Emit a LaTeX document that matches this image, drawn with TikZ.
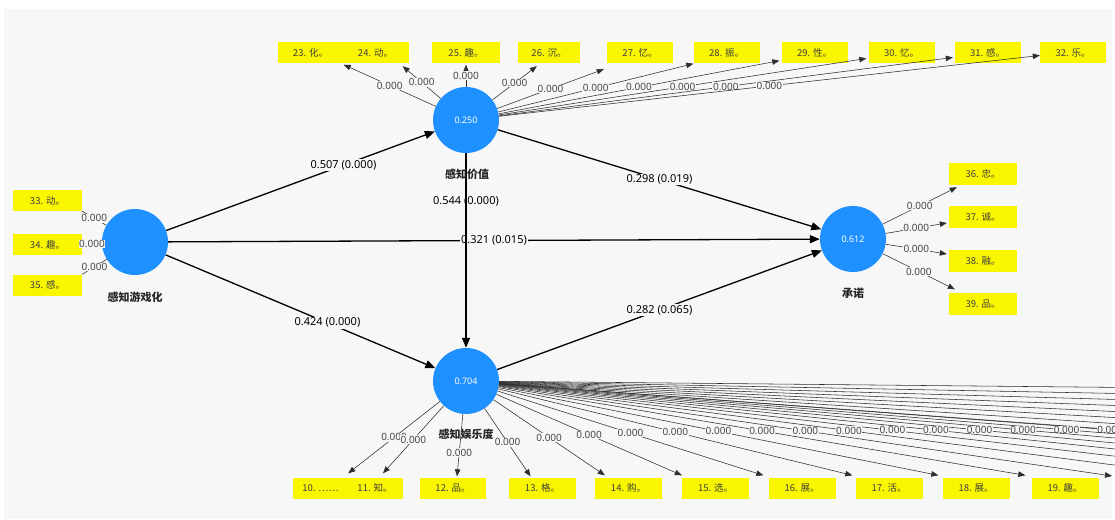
\documentclass[tikz,border=0pt]{standalone}
\usepackage{fontspec}
\setmainfont{Noto Sans}
\newfontfamily\cjk{Noto Sans CJK SC}
\usetikzlibrary{arrows.meta}
\definecolor{canvas}{RGB}{247,247,248}
\definecolor{lv}{RGB}{30,144,255}
\definecolor{mvfill}{RGB}{250,246,0}
\definecolor{wire}{RGB}{45,45,45}
\definecolor{numgray}{RGB}{70,70,70}
\begin{document}
\begin{tikzpicture}[x=1pt,y=-1pt,
  latent/.style={circle,fill=lv,minimum size=66pt,inner sep=0pt,text=white,
    font=\fontsize{9}{10}\selectfont},
  lvname/.style={font=\cjk\bfseries\fontsize{11}{12}\selectfont,text=black!85},
  mvbox/.style={fill=mvfill,minimum width=66pt,minimum height=21pt,inner sep=0pt,
    font=\cjk\fontsize{9.5}{10}\selectfont,text=black!75},
  inner/.style={draw=black,line width=1.3pt,-{Triangle[length=10pt,width=8pt]}},
  outer/.style={draw=wire,line width=0.55pt,-{Triangle[length=7pt,width=5.5pt]}},
  plainouter/.style={draw=wire,line width=0.55pt},
  coef/.style={fill=canvas,inner sep=1pt,font=\bfseries\fontsize{11}{12}\selectfont},
  coefbare/.style={inner sep=1pt,font=\bfseries\fontsize{11}{12}\selectfont},
  load/.style={fill=canvas,inner sep=0.6pt,text=numgray,font=\fontsize{10}{11}\selectfont},
]
\useasboundingbox (0,0) rectangle (1115,519);
\clip (0,0) rectangle (1115,519);
% page background
\fill[white] (0,0) rectangle (1115,519);
\fill[canvas] (4,9) rectangle (1112,519);

% latent variables
\node[latent] (gm) at (135,242) {};
\node[latent] (pv) at (466,120) {0.250};
\node[latent] (cm) at (853,239) {0.612};
\node[latent] (pe) at (466,381) {0.704};

% indicators of 感知价值
\node[mvbox] (m23) at (310.5,52.5) {23. 化。};
\node[mvbox] (m24) at (375.5,52.5) {24. 动。};
\node[mvbox,minimum width=68pt] (m25) at (466,52.5) {25. 趣。};
\node[mvbox,minimum width=62pt] (m26) at (549,52.5) {26. 沉。};
\node[mvbox] (m27) at (640,52.5) {27. 忆。};
\node[mvbox] (m28) at (726.5,52.5) {28. 振。};
\node[mvbox] (m29) at (814.5,52.5) {29. 性。};
\node[mvbox] (m30) at (901.5,52.5) {30. 忆。};
\node[mvbox] (m31) at (987.5,52.5) {31. 感。};
\node[mvbox] (m32) at (1073,52.5) {32. 乐。};

% indicators of 感知游戏化
\node[mvbox,minimum width=69pt] (m33) at (47.5,200.5) {33. 动。};
\node[mvbox,minimum width=69pt] (m34) at (47.5,244.5) {34. 趣。};
\node[mvbox,minimum width=69pt] (m35) at (47.5,285) {35. 感。};

% indicators of 承诺
\node[mvbox,minimum width=68pt,minimum height=22pt] (m36) at (983,173.5) {36. 忠。};
\node[mvbox,minimum width=68pt,minimum height=22pt] (m37) at (983,216.5) {37. 诚。};
\node[mvbox,minimum width=68pt,minimum height=22pt] (m38) at (983,260.5) {38. 融。};
\node[mvbox,minimum width=68pt,minimum height=22pt] (m39) at (983,304) {39. 品。};

% indicators of 感知娱乐度
\node[mvbox,minimum width=55pt] (m10) at (320.5,488) {10. ……};
\node[mvbox,minimum width=55pt] (m11) at (375,488) {11. 知。};
\node[mvbox] (m12) at (453,488) {12. 品。};
\node[mvbox,minimum width=67pt] (m13) at (542.5,488) {13. 格。};
\node[mvbox,minimum width=67pt] (m14) at (628.5,488) {14. 购。};
\node[mvbox,minimum width=67pt] (m15) at (715.5,488) {15. 选。};
\node[mvbox,minimum width=67pt] (m16) at (802,488) {16. 展。};
\node[mvbox,minimum width=67pt] (m17) at (889,488) {17. 活。};
\node[mvbox,minimum width=67pt] (m18) at (976,488) {18. 展。};
\node[mvbox,minimum width=67pt] (m19) at (1065,488) {19. 趣。};
% further indicators continue beyond the right border
\foreach \i [count=\k from 0] in {20,...,27}
  \coordinate (f\i) at ({1112+87*\k},476);
\foreach \j in {1,...,8}
  \coordinate (g\j) at (2400,{400+(\j-1)*18});

% outer model: 感知价值
\draw[outer] (pv) -- ([xshift=-6pt,yshift=-3pt]m24.south east) node[load,midway]{0.000};
\draw[outer] (pv) -- ([yshift=-1.5pt]m23.south east) node[load,midway]{0.000};
\draw[outer] (pv) -- ([yshift=-1.5pt]m25.south) node[load,midway]{0.000};
\draw[outer] (pv) -- ([xshift=19pt,yshift=-3pt]m26.south west) node[load,midway]{0.000};
\draw[outer] (pv) -- ([xshift=-3pt,yshift=-6pt]m27.south west) node[load,midway]{0.000};
\draw[outer] (pv) -- ([yshift=-0.5pt]m28.south west) node[load,midway]{0.000};
\draw[outer] (pv) -- ([xshift=-2pt,yshift=2.5pt]m29.south west) node[load,midway]{0.000};
\draw[outer] (pv) -- ([xshift=-2pt,yshift=-6pt]m30.west) node[load,midway]{0.000};
\draw[outer] (pv) -- ([xshift=-1.5pt,yshift=-5pt]m31.west) node[load,midway]{0.000};
\draw[outer] (pv) -- ([yshift=-3pt]m32.west) node[load,midway]{0.000};

% outer model: 感知游戏化 (short links, hidden under their loadings)
\draw[plainouter] (gm) -- (m33.south east) node[load,midway]{0.000};
\draw[plainouter] (gm) -- (m34.east) node[load,midway]{0.000};
\draw[plainouter] (gm) -- (m35.north east) node[load,midway]{0.000};

% outer model: 承诺
\draw[outer] (cm) -- ([xshift=8pt,yshift=-2.5pt]m36.south west) node[load,midway]{0.000};
\draw[outer] (cm) -- ([xshift=-2pt,yshift=-6.5pt]m37.west) node[load,midway]{0.000};
\draw[outer] (cm) -- ([xshift=-2pt,yshift=6.5pt]m38.west) node[load,midway]{0.000};
\draw[outer] (cm) -- ([xshift=6pt,yshift=3.5pt]m39.north west) node[load,midway]{0.000};

% outer model: 感知娱乐度
\foreach \j in {1,...,8}
  \draw[outer] (pe) -- (g\j);
\foreach \i in {27,26,...,20}
  \draw[outer] (pe) -- (f\i) node[load,midway]{0.000};
\draw[outer] (pe) -- ([xshift=-6pt,yshift=2pt]m19.north west) node[load,midway]{0.000};
\draw[outer] (pe) -- ([xshift=-4pt,yshift=2pt]m18.north west) node[load,midway]{0.000};
\draw[outer] (pe) -- ([xshift=-3pt,yshift=2pt]m17.north west) node[load,midway]{0.000};
\draw[outer] (pe) -- ([xshift=-5pt,yshift=2pt]m16.north west) node[load,midway]{0.000};
\draw[outer] (pe) -- ([yshift=2pt]m15.north west) node[load,midway]{0.000};
\draw[outer] (pe) -- ([xshift=10pt,yshift=2pt]m14.north west) node[load,midway]{0.000};
\draw[outer] (pe) -- ([xshift=-12pt,yshift=1pt]m13.north) node[load,midway]{0.000};
\draw[outer] (pe) -- ([xshift=4pt,yshift=1pt]m12.north) node[load,pos=0.62]{0.000};
\draw[outer] (pe) -- ([yshift=4pt]m10.north east) node[load,midway]{0.000};
\draw[outer] (pe) -- ([xshift=8pt,yshift=4pt]m11.north) node[load,midway]{0.000};

% inner model
\draw[inner] (gm) -- (cm) node[coef,midway]{0.321 (0.015)};
\draw[inner] (gm) -- (pv) node[coef,pos=0.66]{0.507 (0.000)};
\draw[inner] (gm) -- (pe) node[coef,pos=0.6]{0.424 (0.000)};
\draw[inner] (pv) -- (cm) node[coef,midway]{0.298 (0.019)};
\draw[inner] (pe) -- (cm) node[coef,midway]{0.282 (0.065)};
\draw[inner] (pv) -- (pe) node[coefbare,pos=0.25]{0.544 (0.000)};

% construct names
\node[lvname] (gmname) at (135,297) {感知游戏化};
\node[lvname] (pvname) at (467,174) {感知价值};
\node[lvname] (cmname) at (853,293) {承诺};
\node[lvname] (pename) at (466,434) {感知娱乐度};
\end{tikzpicture}
\end{document}
